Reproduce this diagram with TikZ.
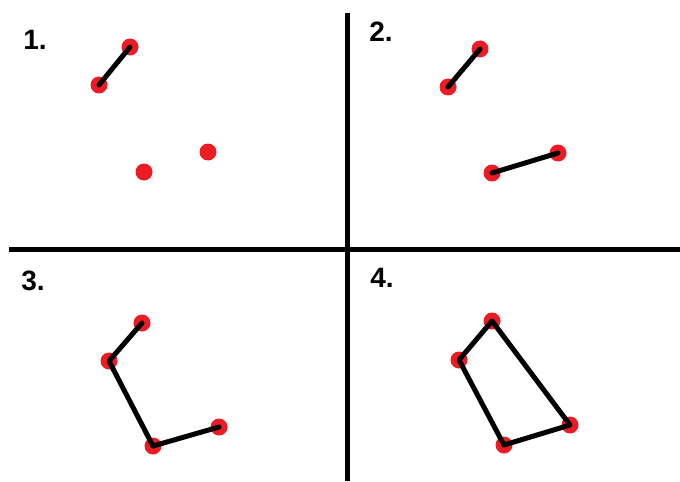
\documentclass[tikz,border=0pt]{standalone}
\usepackage{fontspec}
\setmainfont{Liberation Sans}
\definecolor{dotred}{HTML}{ED1C24}
\begin{document}
\begin{tikzpicture}[x=0.75pt,y=-0.75pt,
  dot/.style={circle,fill=dotred,inner sep=0pt,minimum size=12.75pt},
  seg/.style={line width=3.75pt,line cap=round,line join=round,black},
  divider/.style={line width=3.75pt,black},
  lbl/.style={font=\bfseries\fontsize{21}{21}\selectfont,inner sep=0pt}]
\useasboundingbox[fill=white] (0,0) rectangle (680,481);
% dividers
\coordinate (vtop) at (347,13);
\coordinate (vbot) at (347,481);
\coordinate (hl) at (9,249);
\coordinate (hr) at (680,249);
\draw[divider] (vtop) -- (vbot);
\draw[divider] (hl) -- (hr);
% labels
\node[lbl] (l1) at (35,40) {1.};
\node[lbl] (l2) at (381,32) {2.};
\node[lbl] (l3) at (33,281) {3.};
\node[lbl] (l4) at (382,278) {4.};
% panel 1
\node[dot] (a1) at (130,47) {};
\node[dot] (b1) at (99,85) {};
\node[dot] (c1) at (144,172) {};
\node[dot] (d1) at (208,152) {};
\draw[seg] (a1.center) -- (b1.center);
% panel 2
\node[dot] (a2) at (480,49) {};
\node[dot] (b2) at (448,87) {};
\node[dot] (c2) at (492,173) {};
\node[dot] (d2) at (558,153) {};
\draw[seg] (a2.center) -- (b2.center);
\draw[seg] (c2.center) -- (d2.center);
% panel 3
\node[dot] (a3) at (142,323) {};
\node[dot] (b3) at (109,361) {};
\node[dot] (c3) at (153,446) {};
\node[dot] (d3) at (219,427) {};
\draw[seg] (a3.center) -- (b3.center) -- (c3.center) -- (d3.center);
% panel 4
\node[dot] (a4) at (492,321) {};
\node[dot] (b4) at (459,360) {};
\node[dot] (c4) at (504,445) {};
\node[dot] (d4) at (570,425) {};
\draw[seg] (a4.center) -- (b4.center) -- (c4.center) -- (d4.center) -- cycle;
\end{tikzpicture}
\end{document}
